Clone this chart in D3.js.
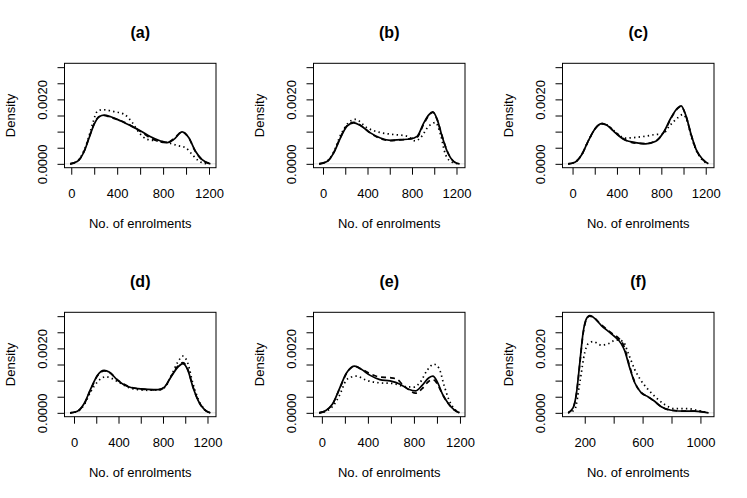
<!DOCTYPE html>
<html>
<head>
<meta charset="utf-8">
<script src="https://cdn.jsdelivr.net/npm/d3@7"></script>
<style>
  body { margin: 0; background: #fff; }
  text { font-family: "Liberation Sans", Arial, Helvetica, sans-serif; fill: #000; }
</style>
</head>
<body>
<svg id="chart" width="747" height="498"></svg>
<script>
// Panel titles
var panelTitles = ["(a)", "(b)", "(c)", "(d)", "(e)", "(f)"];

// Density curves, as [no. of enrolments, density]
var aSolid = [[-10,0],[55,0.00008],[113,0.00039],[156,0.00081],[200,0.00123],[243,0.00146],[286,0.00151],[344,0.00146],[431,0.00133],[518,0.00118],[605,0.00102],[691,0.00084],[778,0.00071],[836,0.00066],[894,0.00076],[966,0.00099],[1024,0.00081],[1082,0.00039],[1140,0.00013],[1212,0]];
var aDashed = [[-10,0],[55,0.00008],[113,0.0004],[156,0.00083],[200,0.00125],[243,0.00147],[286,0.0015],[344,0.00144],[431,0.00134],[518,0.00119],[605,0.001],[691,0.0008],[778,0.00068],[836,0.00066],[894,0.00078],[966,0.00099],[1024,0.0008],[1082,0.00038],[1140,0.00012],[1212,0]];
var aDotted = [[-10,0],[55,0.00009],[113,0.00043],[156,0.00088],[186,0.00125],[229,0.00164],[272,0.00168],[373,0.00162],[460,0.00154],[532,0.00128],[590,0.00097],[662,0.00076],[749,0.00071],[836,0.00066],[923,0.00057],[995,0.0005],[1053,0.00029],[1096,0.00013],[1154,0.00002],[1200,0]];

var bSolid = [[-35,0],[36,0.00007],[95,0.00033],[156,0.0008],[216,0.00117],[276,0.00127],[336,0.00119],[426,0.00096],[516,0.0008],[606,0.00073],[696,0.00075],[786,0.00077],[846,0.00085],[906,0.00127],[951,0.00152],[987,0.00161],[1026,0.00138],[1071,0.00085],[1116,0.00039],[1176,0.00007],[1226,0]];
var bDashed = [[-35,0],[36,0.00007],[95,0.00034],[156,0.00082],[216,0.00119],[276,0.00129],[336,0.0012],[426,0.00095],[516,0.00078],[606,0.00072],[696,0.00074],[786,0.00078],[846,0.00083],[906,0.00124],[951,0.0015],[987,0.0016],[1026,0.00137],[1071,0.00086],[1116,0.0004],[1176,0.00007],[1226,0]];
var bDotted = [[-35,0],[36,0.00008],[95,0.00036],[156,0.00088],[186,0.00107],[230,0.00128],[291,0.00138],[396,0.00112],[516,0.00097],[636,0.00091],[756,0.00086],[831,0.00071],[876,0.00081],[951,0.00117],[1011,0.00128],[1056,0.00092],[1101,0.00029],[1160,0.00005],[1226,0]];

var cSolid = [[-40,0],[21,0.00005],[82,0.00028],[143,0.00072],[203,0.00109],[264,0.00125],[310,0.0012],[386,0.00096],[477,0.00073],[568,0.00066],[659,0.00062],[750,0.0007],[826,0.00101],[887,0.00143],[948,0.00174],[978,0.0018],[1023,0.00148],[1069,0.0009],[1114,0.00044],[1175,0.00013],[1224,0]];
var cDashed = [[-40,0],[21,0.00005],[82,0.00028],[143,0.00072],[203,0.00109],[264,0.00125],[310,0.0012],[386,0.00097],[477,0.00074],[568,0.00064],[659,0.00063],[750,0.00071],[826,0.001],[887,0.00141],[948,0.00172],[978,0.00178],[1023,0.00147],[1069,0.0009],[1114,0.00044],[1175,0.00013],[1224,0]];
var cDotted = [[-40,0],[21,0.00005],[82,0.00028],[143,0.00072],[203,0.00109],[264,0.00125],[310,0.00121],[386,0.00099],[477,0.0008],[568,0.00082],[659,0.00086],[750,0.00091],[811,0.00092],[872,0.00117],[948,0.00143],[993,0.00153],[1039,0.00127],[1069,0.00085],[1114,0.00042],[1175,0.0001],[1224,0]];

var dSolid = [[-35,0],[30,0.00005],[90,0.00028],[151,0.00075],[211,0.00117],[271,0.00132],[316,0.00127],[392,0.00101],[482,0.00082],[572,0.00075],[663,0.00073],[753,0.00072],[813,0.0008],[874,0.00113],[934,0.00142],[979,0.00153],[1024,0.00132],[1069,0.0008],[1115,0.00039],[1175,0.00009],[1226,0]];
var dDashed = [[-35,0],[30,0.00005],[90,0.00027],[151,0.00073],[211,0.00115],[271,0.0013],[316,0.00126],[392,0.00102],[482,0.00083],[572,0.00075],[663,0.00072],[753,0.00071],[813,0.00079],[874,0.00114],[934,0.00145],[979,0.00156],[1024,0.00134],[1069,0.00081],[1115,0.00039],[1175,0.00009],[1226,0]];
var dDotted = [[-35,0],[30,0.00004],[90,0.00024],[151,0.00066],[211,0.00096],[241,0.00106],[286,0.00112],[331,0.00108],[392,0.00097],[482,0.0008],[572,0.00072],[663,0.0007],[753,0.00071],[813,0.00078],[874,0.00115],[934,0.00158],[979,0.00176],[1024,0.00153],[1069,0.00091],[1115,0.00044],[1175,0.0001],[1226,0]];

var eSolid = [[-24,0],[35,0.00007],[94,0.00028],[153,0.00075],[211,0.00122],[255,0.00141],[285,0.00145],[343,0.00135],[416,0.00117],[504,0.00103],[592,0.00099],[680,0.00089],[754,0.00073],[813,0.00068],[871,0.00085],[930,0.00109],[965,0.00114],[1003,0.00096],[1047,0.00059],[1091,0.00033],[1150,0.00009],[1195,0]];
var eDashed = [[-24,0],[35,0.00007],[94,0.00028],[153,0.00074],[211,0.0012],[255,0.0014],[285,0.00144],[343,0.00136],[416,0.00122],[504,0.00111],[592,0.00109],[650,0.00105],[700,0.00088],[754,0.00072],[813,0.00061],[871,0.00075],[930,0.00098],[965,0.00103],[1003,0.0009],[1047,0.00058],[1091,0.00032],[1150,0.00009],[1195,0]];
var eDotted = [[-24,0],[35,0.00005],[94,0.0002],[153,0.00054],[211,0.00101],[255,0.00111],[299,0.00114],[387,0.00101],[504,0.00093],[621,0.00091],[710,0.00082],[798,0.0008],[857,0.00096],[915,0.00132],[974,0.00151],[1018,0.00138],[1062,0.00085],[1106,0.00039],[1150,0.00013],[1195,0]];

var fSolid = [[85,0],[120,0.00016],[143,0.00062],[166,0.00156],[189,0.0025],[212,0.00292],[234,0.00302],[258,0.00297],[315,0.00271],[384,0.00245],[453,0.00214],[476,0.00193],[510,0.00141],[545,0.00094],[591,0.00062],[637,0.0005],[683,0.00036],[729,0.00019],[798,0.00008],[890,0.00005],[959,0.00005],[1055,0]];
var fDashed = [[85,0],[120,0.00016],[143,0.0006],[166,0.00152],[189,0.00246],[212,0.0029],[234,0.003],[258,0.00297],[315,0.00273],[384,0.00248],[442,0.00228],[470,0.00208],[510,0.00145],[545,0.00096],[591,0.00063],[637,0.0005],[683,0.00035],[729,0.00019],[798,0.00008],[890,0.00005],[959,0.00005],[1055,0]];
var fDotted = [[85,0],[131,0.0001],[166,0.00094],[200,0.00187],[223,0.00214],[258,0.00221],[315,0.0021],[361,0.00214],[418,0.00226],[464,0.00222],[499,0.00187],[545,0.00135],[591,0.00099],[637,0.00073],[694,0.00047],[752,0.00026],[821,0.00013],[913,0.00013],[982,0.00007],[1055,0]];

// Axis ticks and the labels R kept
var xTicksWide = [0, 200, 400, 600, 800, 1000, 1200];
var xLabelsWide = [0, 400, 800, 1200];
var xTicksF = [200, 400, 600, 800, 1000];
var xLabelsF = [200, 600, 1000];
var yTicks = [0, 0.0005, 0.001, 0.0015, 0.002, 0.0025, 0.003];
var yLabels = [0, 0.002];
var yLimits = [0, 0.003];

var xTitle = "No. of enrolments",
    yTitle = "Density";

var panels = [
    { title: panelTitles[0], solid: aSolid, dashed: aDashed, dotted: aDotted, ticks: xTicksWide, labels: xLabelsWide },
    { title: panelTitles[1], solid: bSolid, dashed: bDashed, dotted: bDotted, ticks: xTicksWide, labels: xLabelsWide },
    { title: panelTitles[2], solid: cSolid, dashed: cDashed, dotted: cDotted, ticks: xTicksWide, labels: xLabelsWide },
    { title: panelTitles[3], solid: dSolid, dashed: dDashed, dotted: dDotted, ticks: xTicksWide, labels: xLabelsWide },
    { title: panelTitles[4], solid: eSolid, dashed: eDashed, dotted: eDotted, ticks: xTicksWide, labels: xLabelsWide },
    { title: panelTitles[5], solid: fSolid, dashed: fDashed, dotted: fDotted, ticks: xTicksF, labels: xLabelsF }
];

// Layout of the 3 x 2 grid
var boxW = 151.5,
    boxH = 104.4,
    left0 = 64.5,
    top0 = 63.3,
    step = 249;

var lineStyles = [
    { key: "solid", dash: null },
    { key: "dashed", dash: "5,4" },
    { key: "dotted", dash: "1.4,3.2" }
];

var svg = d3.select("#chart");
svg.append("rect").attr("width", 747).attr("height", 498).attr("fill", "#fff");

panels.forEach(function (p, i) {
    var col = i % 3,
        row = Math.floor(i / 3);

    var g = svg.append("g")
        .attr("transform", "translate(" + (left0 + col * step) + "," + (top0 + row * step) + ")");

    // R-style 4% padding round the data range
    var xs = p.solid.concat(p.dashed, p.dotted).map(function (d) { return d[0]; });
    var ext = d3.extent(xs),
        xPad = (ext[1] - ext[0]) * 0.04,
        yPad = (yLimits[1] - yLimits[0]) * 0.04;

    var x = d3.scaleLinear().domain([ext[0] - xPad, ext[1] + xPad]).range([0, boxW]);
    var y = d3.scaleLinear().domain([yLimits[0] - yPad, yLimits[1] + yPad]).range([boxH, 0]);

    // faint zero line, as plot.density draws it
    g.append("line")
        .attr("x1", 0).attr("x2", boxW)
        .attr("y1", y(0)).attr("y2", y(0))
        .attr("stroke", "#d6d6d6")
        .attr("stroke-width", 0.8);

    var line = d3.line()
        .x(function (d) { return x(d[0]); })
        .y(function (d) { return y(d[1]); })
        .curve(d3.curveMonotoneX);

    lineStyles.forEach(function (s) {
        g.append("path")
            .datum(p[s.key])
            .attr("d", line)
            .attr("fill", "none")
            .attr("stroke", "#000")
            .attr("stroke-width", 1.7)
            .attr("stroke-linejoin", "round")
            .attr("stroke-dasharray", s.dash);
    });

    // frame
    g.append("rect")
        .attr("width", boxW).attr("height", boxH)
        .attr("fill", "none")
        .attr("stroke", "#000")
        .attr("stroke-width", 1);

    // x axis
    var xAxis = g.append("g")
        .attr("transform", "translate(0," + boxH + ")")
        .call(d3.axisBottom(x)
            .tickValues(p.ticks)
            .tickSize(7)
            .tickFormat(function (v) { return p.labels.indexOf(v) >= 0 ? String(v) : ""; }));
    xAxis.select(".domain").remove();
    xAxis.selectAll("line").attr("stroke", "#000");
    xAxis.selectAll("text")
        .attr("y", 30.5).attr("dy", null)
        .style("font-size", "13px")
        .style("font-family", "'Liberation Sans', Arial, sans-serif")
        .attr("fill", "#000");

    // y axis with upright-rotated labels
    var yAxis = g.append("g")
        .call(d3.axisLeft(y)
            .tickValues(yTicks)
            .tickSize(7)
            .tickFormat(function (v) { return yLabels.indexOf(v) >= 0 ? d3.format(".4f")(v) : ""; }));
    yAxis.select(".domain").remove();
    yAxis.selectAll("line").attr("stroke", "#000");
    yAxis.selectAll("text")
        .attr("x", null).attr("dy", null)
        .attr("text-anchor", "middle")
        .attr("transform", "translate(-17.5,0) rotate(-90)")
        .style("font-size", "13px")
        .style("font-family", "'Liberation Sans', Arial, sans-serif")
        .attr("fill", "#000");

    // titles
    g.append("text")
        .attr("x", boxW / 2).attr("y", -25)
        .attr("text-anchor", "middle")
        .style("font-size", "16px")
        .style("font-weight", "bold")
        .text(p.title);

    g.append("text")
        .attr("x", boxW / 2).attr("y", boxH + 60)
        .attr("text-anchor", "middle")
        .style("font-size", "13px")
        .text(xTitle);

    g.append("text")
        .attr("transform", "translate(-50," + (boxH / 2) + ") rotate(-90)")
        .attr("text-anchor", "middle")
        .style("font-size", "13px")
        .text(yTitle);
});
</script>
</body>
</html>
